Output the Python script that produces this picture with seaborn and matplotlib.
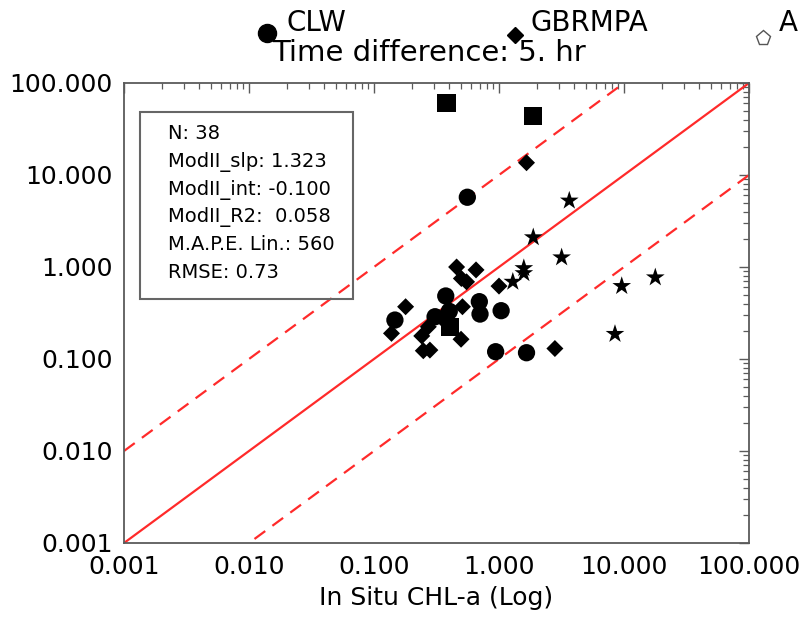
import numpy as np
import pandas as pd
import matplotlib
matplotlib.use("Agg")
import matplotlib.pyplot as plt
import seaborn as sns
from matplotlib.patches import Rectangle
from matplotlib.ticker import LogLocator, FixedLocator, FixedFormatter, NullFormatter

# ---- data ----
clw_x = [0.558, 0.147, 0.375, 0.308, 0.40, 0.696, 0.705, 1.04, 0.94, 1.66]
clw_y = [5.73, 0.265, 0.484, 0.288, 0.33, 0.42, 0.308, 0.335, 0.12, 0.117]

gbr_x = [1.66, 0.458, 0.655, 0.50, 0.55, 1.0, 0.179, 0.51, 0.138, 0.241, 0.272,
         0.497, 0.248, 0.28, 2.8, 0.355]
gbr_y = [13.6, 1.0, 0.93, 0.75, 0.69, 0.62, 0.37, 0.37, 0.19, 0.178, 0.224,
         0.164, 0.123, 0.125, 0.13, 0.27]

sq_x = [0.38, 1.86, 0.405]
sq_y = [60.1, 44.2, 0.223]

star_x = [3.65, 1.88, 3.17, 1.58, 1.58, 1.29, 9.59, 17.8, 8.47]
star_y = [5.26, 2.10, 1.27, 0.97, 0.855, 0.69, 0.62, 0.77, 0.187]

tick_vals = [0.001, 0.01, 0.1, 1, 10, 100]
tick_labels = ["0.001", "0.010", "0.100", "1.000", "10.000", "100.000"]
ref_factors = [0.1, 1.0, 10.0]

stats_lines = ["N: 38", "ModII_slp: 1.323", "ModII_int: -0.100",
               "ModII_R2:  0.058", "M.A.P.E. Lin.: 560", "RMSE: 0.73"]
title_text = "Time difference: 5. hr"
legend_names = ["CLW", "GBRMPA", "A"]
xlabel = "In Situ CHL-a (Log)"

# ---- styling ----
sns.set_style("white")
plt.rcParams["font.family"] = ["DejaVu Sans"]
plt.rcParams["text.color"] = "black"
plt.rcParams["axes.labelcolor"] = "black"

W, H = 802, 617
fig = plt.figure(figsize=(W / 100, H / 100), dpi=100)
L, R, T, B = 124, 749, 83, 543
ax = fig.add_axes([L / W, 1 - B / H, (R - L) / W, (B - T) / H])

df = pd.DataFrame({
    "x": clw_x + gbr_x + sq_x + star_x,
    "y": clw_y + gbr_y + sq_y + star_y,
    "group": (["CLW"] * len(clw_x) + ["GBRMPA"] * len(gbr_x)
              + ["SQ"] * len(sq_x) + ["STAR"] * len(star_x)),
})

ax.set_xscale("log")
ax.set_yscale("log")
ax.set_xlim(1e-3, 1e2)
ax.set_ylim(1e-3, 1e2)

# reference lines: 1:1 and +/- one decade
red = "#ff2a2a"
xr = np.array([1e-3, 1e2])
for f in ref_factors:
    if f == 1.0:
        ax.plot(xr, xr * f, color=red, lw=1.6, zorder=2)
    else:
        ax.plot(xr, xr * f, color=red, lw=1.6, dashes=(6, 4), zorder=2)

sns.scatterplot(data=df, x="x", y="y", style="group", size="group",
                markers={"CLW": "o", "GBRMPA": "D", "SQ": "s", "STAR": "*"},
                sizes={"CLW": 155, "GBRMPA": 75, "SQ": 170, "STAR": 200},
                color="black", linewidth=0, legend=False, ax=ax, zorder=3)

frame_col = "#5a5a5a"
for s in ax.spines.values():
    s.set_color(frame_col)
    s.set_linewidth(1.3)
    s.set_visible(True)

ax.xaxis.set_major_locator(FixedLocator(tick_vals))
ax.xaxis.set_major_formatter(FixedFormatter(tick_labels))
ax.yaxis.set_major_locator(FixedLocator(tick_vals))
ax.yaxis.set_major_formatter(FixedFormatter(tick_labels))
ax.xaxis.set_minor_locator(LogLocator(base=10, subs=np.arange(2, 10), numticks=20))
ax.yaxis.set_minor_locator(LogLocator(base=10, subs=np.arange(2, 10), numticks=20))
ax.xaxis.set_minor_formatter(NullFormatter())
ax.yaxis.set_minor_formatter(NullFormatter())
ax.tick_params(which="both", direction="in", top=True, right=True,
               color=frame_col, labelsize=18, labelcolor="black")
ax.tick_params(which="major", length=7, width=1.0)
ax.tick_params(which="minor", length=4, width=0.9)
ax.tick_params(axis="x", which="major", pad=9)
ax.tick_params(axis="y", which="major", pad=8)
ax.set_xlabel(xlabel, fontsize=18, labelpad=5, color="black")
ax.set_ylabel("")

# ---- overlay in pixel coordinates for the header and the stats box ----
ov = fig.add_axes([0, 0, 1, 1], zorder=5)
ov.set_xlim(0, W)
ov.set_ylim(H, 0)
ov.axis("off")
ov.patch.set_alpha(0)

ov.plot([267], [33], marker="o", ms=13, color="black", ls="none", clip_on=False)
ov.plot([515], [35], marker="D", ms=8.5, color="black", ls="none", clip_on=False)
ov.plot([763], [38], marker="p", ms=11, mfc="white", mec="#555555", mew=1.0,
        ls="none", clip_on=False)
ov.text(286, 31, legend_names[0], fontsize=20, va="baseline", ha="left")
ov.text(531, 31, legend_names[1], fontsize=20, va="baseline", ha="left")
ov.text(779, 31, legend_names[2], fontsize=20, va="baseline", ha="left")
ov.text(272, 61, title_text, fontsize=21, va="baseline", ha="left")

ov.add_patch(Rectangle((140, 112), 213, 187, fill=False, ec="#666666", lw=1.5))
for i, line in enumerate(stats_lines):
    ov.text(168, 139 + i * 27.8, line, fontsize=14, va="baseline", ha="left")

fig.savefig("out.png", dpi=100)
